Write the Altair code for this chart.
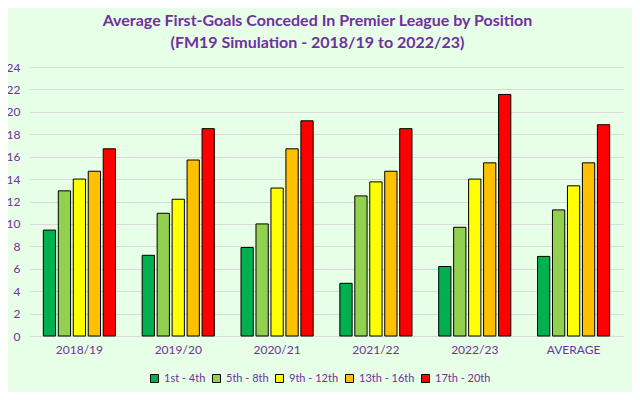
import altair as alt
import pandas as pd

seasons = ["2018/19", "2019/20", "2020/21", "2021/22", "2022/23", "AVERAGE"]
positions = ["1st - 4th", "5th - 8th", "9th - 12th", "13th - 16th", "17th - 20th"]
colors = ["#00B050", "#92D050", "#FFFF00", "#FFC000", "#FF0000"]

pos_1_4 = [9.45, 7.2, 7.9, 4.7, 6.2, 7.1]
pos_5_8 = [12.95, 10.95, 10.0, 12.5, 9.7, 11.25]
pos_9_12 = [14.0, 12.2, 13.2, 13.75, 14.0, 13.4]
pos_13_16 = [14.7, 15.7, 16.7, 14.7, 15.45, 15.45]
pos_17_20 = [16.7, 18.5, 19.2, 18.5, 21.55, 18.85]

series = [pos_1_4, pos_5_8, pos_9_12, pos_13_16, pos_17_20]
rows = []
for p, vals in zip(positions, series):
    for s, v in zip(seasons, vals):
        rows.append({"Season": s, "Position": p, "Goals": v})
df = pd.DataFrame(rows)

FONT = "Lato"
PURPLE = "#7030A0"

chart = (
    alt.Chart(df)
    .mark_bar(stroke="black", strokeWidth=1)
    .encode(
        x=alt.X("Season:N", sort=seasons, title=None,
                scale=alt.Scale(paddingInner=0.27, paddingOuter=0.135),
                axis=alt.Axis(labelAngle=0, ticks=False, domain=True, domainColor="#D9D9D9",
                              labelPadding=8, labelFontSize=12, labelColor=PURPLE, labelFont=FONT)),
        xOffset=alt.XOffset("Position:N", sort=positions, scale=alt.Scale(paddingInner=0.18)),
        y=alt.Y("Goals:Q", title=None,
                scale=alt.Scale(domain=[0, 24]),
                axis=alt.Axis(values=list(range(0, 25, 2)), ticks=False, domain=False,
                              gridColor="#D9D9D9", gridWidth=1, labelPadding=10,
                              labelFontSize=12, labelColor=PURPLE, labelFont=FONT)),
        color=alt.Color("Position:N", sort=positions,
                        scale=alt.Scale(domain=positions, range=colors),
                        legend=alt.Legend(title=None, orient="none", direction="horizontal",
                                          legendX=119, legendY=306, gridAlign="none",
                                          symbolType="square", symbolSize=64,
                                          symbolStrokeColor="black", symbolStrokeWidth=1,
                                          labelFontSize=11, labelColor=PURPLE, labelFont=FONT,
                                          columnPadding=4, labelOffset=4)),
    )
    .properties(
        width=593,
        height=269,
        padding={"left": 22, "top": 59, "right": 9, "bottom": 56},
        autosize=alt.AutoSizeParams(type="none"),
        background="#E6FFE6",
        title=alt.TitleParams(
            text=["Average First-Goals Conceded In Premier League by Position",
                  "(FM19 Simulation - 2018/19 to 2022/23)"],
            fontSize=16, font=FONT, fontWeight="bold", color=PURPLE,
            anchor="middle", dx=-9, offset=10, lineHeight=22,
        ),
    )
    .configure_view(stroke=None)
)

chart.save("out.html", embed_options={"renderer": "svg", "actions": False})
